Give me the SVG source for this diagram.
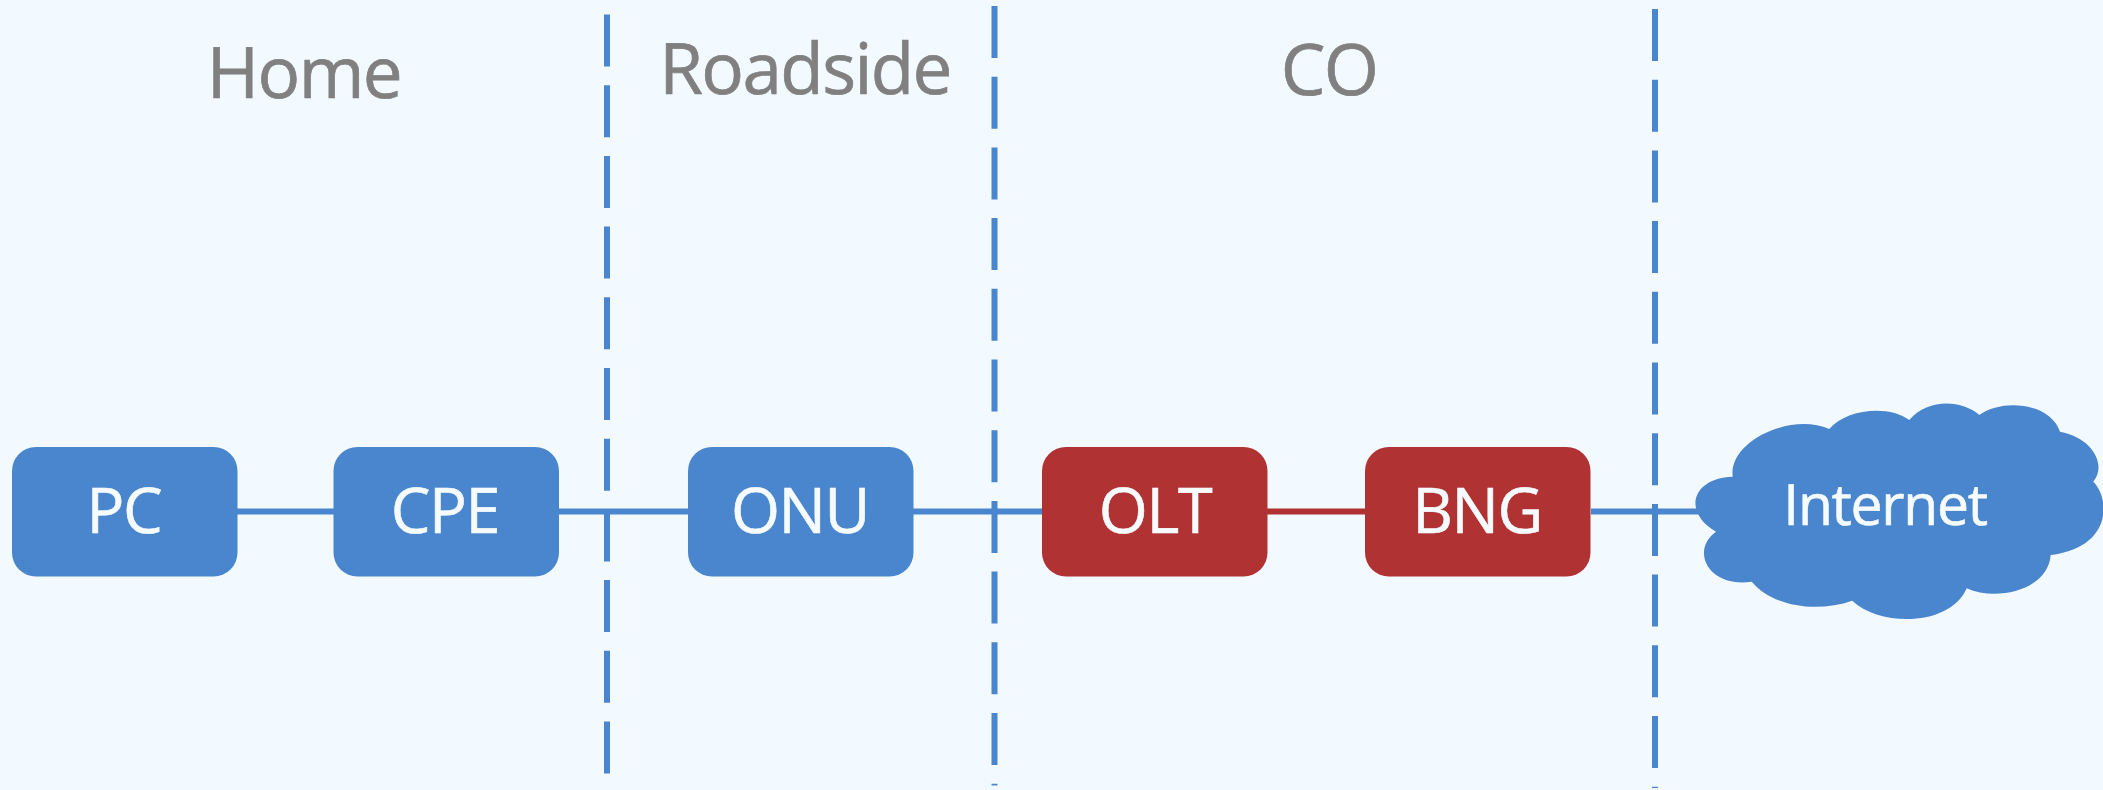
<svg xmlns="http://www.w3.org/2000/svg" width="2103" height="790" viewBox="0 0 2103 790">
  <style>
    text { text-rendering: geometricPrecision; text-anchor: middle; }
    .zone { font: 400 71px "Open Sans", "Noto Sans", sans-serif; fill: #808080; stroke: #808080; stroke-width: .7; letter-spacing: -1.6px; }
    .lbl { font: 400 63px "Open Sans", "Noto Sans", sans-serif; fill: #f6fbff; stroke: #f6fbff; stroke-width: .6; letter-spacing: -1.4px; }
    .net { font-size: 57px; letter-spacing: -1.3px; }
    .blue { fill: #4a86cd; }
    .red { fill: #b03232; }
    .link { stroke: #4a86cd; stroke-width: 6; fill: none; }
    .link-red { stroke: #b03232; stroke-width: 6; fill: none; }
    .div { stroke: #4a86cd; stroke-width: 6; fill: none; stroke-dasharray: 52 18.7; }
  </style>
  <rect width="2103" height="790" fill="#f2f9ff"/>
  <g id="connectors">
    <line class="div" x1="607" y1="14.5" x2="607" y2="785"/>
    <line class="div" x1="994.5" y1="6" x2="994.5" y2="785.5"/>
    <line class="div" x1="1655" y1="9" x2="1655" y2="788"/>
    <line class="link" x1="237" y1="511.5" x2="334" y2="511.5"/>
    <line class="link" x1="559" y1="511.5" x2="688" y2="511.5"/>
    <line class="link" x1="913" y1="511.5" x2="1042" y2="511.5"/>
    <line class="link-red" x1="1267" y1="511.5" x2="1365" y2="511.5"/>
    <line class="link" x1="1591" y1="511.5" x2="1705" y2="511.5"/>
  </g>
  <g id="zone-home"><text class="zone" x="304" y="98">Home</text></g>
  <g id="zone-roadside"><text class="zone" x="805" y="94">Roadside</text></g>
  <g id="zone-co"><text class="zone" x="1329" y="94.5">CO</text></g>
  <g id="node-pc">
    <rect class="blue" x="12" y="447" width="225.5" height="129.5" rx="24"/>
    <text class="lbl" x="124" y="533">PC</text>
  </g>
  <g id="node-cpe">
    <rect class="blue" x="333.5" y="447" width="225.5" height="129.5" rx="24"/>
    <text class="lbl" x="445" y="533">CPE</text>
  </g>
  <g id="node-onu">
    <rect class="blue" x="688" y="447" width="225.5" height="129.5" rx="24"/>
    <text class="lbl" x="800" y="533">ONU</text>
  </g>
  <g id="node-olt">
    <rect class="red" x="1042" y="447" width="225.5" height="129.5" rx="24"/>
    <text class="lbl" x="1155" y="533">OLT</text>
  </g>
  <g id="node-bng">
    <rect class="red" x="1365" y="447" width="225.5" height="129.5" rx="24"/>
    <text class="lbl" x="1477" y="533">BNG</text>
  </g>
  <g id="node-internet">
    <path class="blue" d="M1732.7 476.7 C1728 442 1790 412 1829.3 429 C1847 408 1890 405 1909.3 420 C1928 398 1962 400 1979.3 415 C2003 398 2050 403 2060 431.7 C2093 438 2107 465 2093.3 481.7 C2110 498 2113 547 2050.7 555 C2048 590 1997 602 1966.7 588.3 C1950 627 1880 627 1852.3 600.7 C1817 613 1773 607 1751.7 581.7 C1708 588 1690 550 1716 531.7 C1682 512 1692 478 1732.7 476.7 Z"/>
    <text class="lbl net" x="1885" y="525">Internet</text>
  </g>
</svg>
